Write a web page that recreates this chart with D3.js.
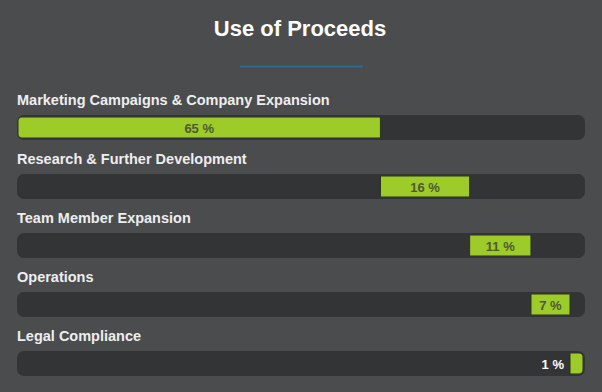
<!DOCTYPE html>
<html>
<head>
<meta charset="utf-8">
<script src="https://cdn.jsdelivr.net/npm/d3@7"></script>
<style>
  html, body { margin: 0; padding: 0; background: #4b4c4e; }
  svg { display: block; font-family: "Liberation Sans", Arial, sans-serif; }
</style>
</head>
<body>
<div id="chart"></div>
<script>
// chart data
var categories = [
    "Marketing Campaigns & Company Expansion",
    "Research & Further Development",
    "Team Member Expansion",
    "Operations",
    "Legal Compliance"
];
var shares = [65, 16, 11, 7, 1];
var title = "Use of Proceeds";

var width = 602, height = 392;

var svg = d3.select("#chart").append("svg")
    .attr("width", width)
    .attr("height", height);

svg.append("rect")
    .attr("width", width).attr("height", height)
    .attr("fill", "#4b4c4e");

// title + little blue rule under it
svg.append("text")
    .attr("x", 300).attr("y", 36)
    .attr("text-anchor", "middle")
    .attr("fill", "#ffffff")
    .style("font-family", "'Liberation Sans', Arial, sans-serif")
    .style("font-size", "22px")
    .style("font-weight", "bold")
    .text(title);

svg.append("line")
    .attr("x1", 240).attr("x2", 363)
    .attr("y1", 66.5).attr("y2", 66.5)
    .attr("stroke", "#2b6b8f")
    .attr("stroke-width", 2);

// each bar starts where the previous one ends.
// tiny shares get a minimum width so they stay visible
var fillX0 = 18, fillX1 = 583, minW = 13;
var total = d3.sum(shares);
var small = shares.map(function (v) { return v / total * (fillX1 - fillX0) < minW; });
var smallCount = small.filter(Boolean).length;
var bigSum = d3.sum(shares.filter(function (v, i) { return !small[i]; }));
var x = d3.scaleLinear().domain([0, bigSum]).range([0, fillX1 - fillX0 - smallCount * minW]);
var widths = shares.map(function (v, i) { return small[i] ? minW : x(v); });
var starts = [];
widths.reduce(function (acc, w) { starts.push(acc); return acc + w; }, fillX0);

var y = d3.scaleBand().domain(categories).range([115, 410]);
var trackH = 25;

var rows = svg.selectAll(".row")
    .data(categories)
    .enter().append("g")
    .attr("class", "row")
    .attr("transform", function (d) { return "translate(0," + y(d) + ")"; });

rows.append("text")
    .attr("x", 17).attr("y", -10)
    .attr("fill", "#eeeeee")
    .style("font-family", "'Liberation Sans', Arial, sans-serif")
    .style("font-size", "14.5px")
    .style("font-weight", "bold")
    .text(function (d) { return d; });

rows.append("rect")
    .attr("x", 17).attr("y", 0)
    .attr("width", 568).attr("height", trackH)
    .attr("rx", 7).attr("ry", 7)
    .attr("fill", "#333435");

// clip so the first and last pieces get rounded ends
var defs = svg.append("defs");
defs.append("clipPath").attr("id", "fillclip")
    .append("rect")
    .attr("x", fillX0).attr("y", 2)
    .attr("width", fillX1 - fillX0).attr("height", 21)
    .attr("rx", 5).attr("ry", 5);

rows.append("rect")
    .attr("clip-path", "url(#fillclip)")
    .attr("x", function (d, i) { return starts[i]; })
    .attr("y", 2)
    .attr("width", function (d, i) { return widths[i]; })
    .attr("height", 21)
    .attr("fill", "#9ccb2a")
    .attr("stroke", "#2c3318")
    .attr("stroke-width", 1);

rows.append("text")
    .attr("y", 17.5)
    .style("font-family", "'Liberation Sans', Arial, sans-serif")
    .style("font-size", "13px")
    .style("font-weight", "bold")
    .each(function (d, i) {
        var x0 = starts[i], x1 = starts[i] + widths[i];
        var t = d3.select(this).text(shares[i] + " %");
        if (x1 - x0 > 30) {
            t.attr("x", (x0 + x1) / 2).attr("text-anchor", "middle").attr("fill", "#505a30");
        } else {
            t.attr("x", x0 - 6).attr("text-anchor", "end").attr("fill", "#ffffff");
        }
    });
</script>
</body>
</html>
